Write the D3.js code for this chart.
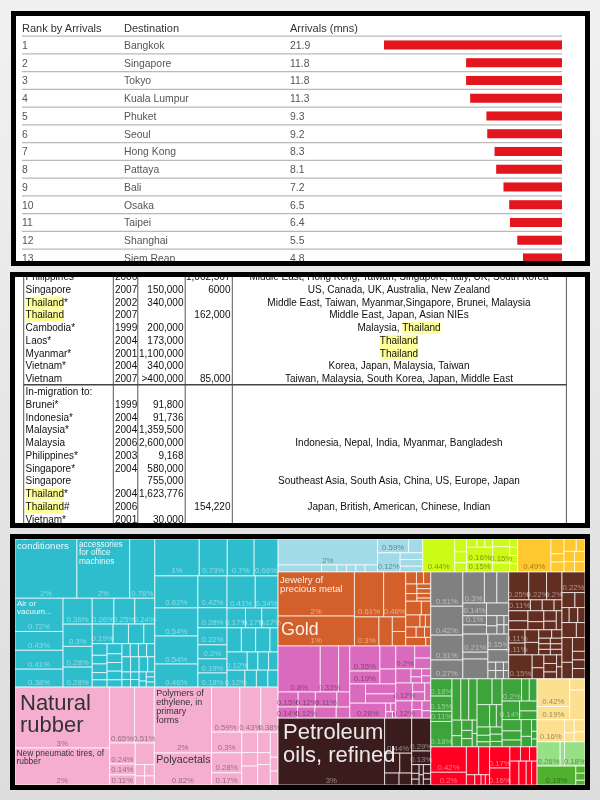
<!DOCTYPE html>
<html>
<head>
<meta charset="utf-8">
<script src="https://cdn.jsdelivr.net/npm/d3@7"></script>
<style>
  html, body { margin: 0; padding: 0; background: #e8e8e8; }
  svg { display: block; font-family: "Liberation Sans", Arial, sans-serif; }
</style>
</head>
<body>
<div id="chart"></div>
<script>
// ---------- table 1: top destinations ----------
const ranks = ["1","2","3","4","5","6","7","8","9","10","11","12","13"];
const cities = ["Bangkok","Singapore","Tokyo","Kuala Lumpur","Phuket","Seoul","Hong Kong","Pattaya","Bali","Osaka","Taipei","Shanghai","Siem Reap"];
const arrivals = [21.9,11.8,11.8,11.3,9.3,9.2,8.3,8.1,7.2,6.5,6.4,5.5,4.8];

// ---------- table 2: migration ----------
const places = ["Philippines","Singapore","Thailand*","Thailand","Cambodia*","Laos*","Myanmar*","Vietnam*","Vietnam","In-migration to:","Brunei*","Indonesia*","Malaysia*","Malaysia","Philippines*","Singapore*","Singapore","Thailand*","Thailand#","Vietnam*"];
const years = ["2006","2007","2002","2007","1999","2004","2001","2004","2007","","1999","2004","2004","2006","2003","2004","","2004","2006","2001"];
const stocks = ["","150,000","340,000","","200,000","173,000","1,100,000","340,000",">400,000","","91,800","91,736","1,359,500","2,600,000","9,168","580,000","755,000","1,623,776","","30,000"];
const flows = ["1,062,567","6000","","162,000","","","","","85,000","","","","","","","","","","154,220",""];
const partners = [
  "Middle East, Hong Kong, Taiwan, Singapore, Italy, UK, South Korea",
  "US, Canada, UK, Australia, New Zealand",
  "Middle East, Taiwan, Myanmar,Singapore, Brunei, Malaysia",
  "Middle East, Japan, Asian NIEs",
  "Malaysia, Thailand",
  "Thailand",
  "Thailand",
  "Korea, Japan, Malaysia, Taiwan",
  "Taiwan, Malaysia, South Korea, Japan, Middle East",
  "","","","",
  "Indonesia, Nepal, India, Myanmar, Bangladesh",
  "","",
  "Southeast Asia, South Asia, China, US, Europe, Japan",
  "",
  "Japan, British, American, Chinese, Indian",
  ""
];

// ---------- treemap: export shares in percent ----------
// a plain number is an unlabelled cell
const p = (v, t, n) => ({v: v, t: t, n: n});

const machinery = [
  [
    [p(1.70,"2%","Air\nconditioners"), p(1.45,"2%","accessories\nfor office\nmachines"), p(.69,"0.78%")],
    [
      [p(.74,"0.72%","Air or\nvacuum..."), p(.42,"0.43%"), p(.42,"0.41%"), p(.40,"0.38%")],
      [p(.35,"0.36%"), p(.30,"0.3%"), p(.28,"0.28%"), p(.27,"0.28%")],
      [
        [p(.26,"0.26%"), p(.25,"0.25%"), p(.24,"0.24%")],
        [p(.19,"0.19%"), .14, .14, .10],
        [
          [.08,.06,.06,.05,.05],
          [.07,.06,.06,.06,.05],
          [[.05,.05,.05,.05], [.06,.06,.06,.05], [[.03,.03],[.03,.03],[.03,.02],[.02,.02,.02]]]
        ]
      ]
    ]
  ],
  [
    [p(.76,"1%"), p(.48,"0.73%"), p(.46,"0.7%"), p(.41,"0.66%")],
    [
      [p(.64,"0.62%"), p(.56,"0.54%"), p(.56,"0.54%"), p(.46,"0.46%")],
      [p(.43,"0.42%"), p(.27,"0.28%"), p(.23,"0.22%"), p(.19,"0.2%"), p(.19,"0.19%"), p(.19,"0.18%")],
      [
        [p(.42,"0.41%"), p(.34,"0.34%")],
        [p(.17,"0.17%"), p(.15,"0.17%"), p(.15,"0.17%")],
        [.16,.16,.16,.09],
        [p(.17,"0.12%"), .09, .09, .08],
        [p(.14,"0.12%"), .09, .09, .08]
      ]
    ]
  ]
];

const rubber = [
  [p(2.67,"3%","Natural\nrubber"), p(1.62,"2%","New pneumatic tires, of\nrubber")],
  [
    [p(.65,"0.65%"), p(.51,"0.51%")],
    [[p(.25,"0.24%"), p(.13,"0.14%"), p(.12,"0.11%")], [.19, [.05,.05], [.04,.04]]]
  ],
  [p(1.75,"2%","Polymers of\nethylene, in\nprimary\nforms"), p(.85,"0.82%","Polyacetals")],
  [
    [p(.59,"0.59%"), p(.44,"0.43%"), p(.36,"0.38%")],
    [[p(.29,"0.3%"), p(.28,"0.28%"), p(.17,"0.17%")], [.15,.10,.14], [.12,.07,.12], [.09,.05,.05]]
  ]
];

const optical = [[
  [p(1.20,"2%"), [.14,.05,.03,.03,.03,.04]],
  [[p(.20,"0.59%"), .09], [p(.20,"0.12%"), [.07,.07,.06]]]
]];
const chemicals = [[
  p(.49,"0.44%"),
  [.07,.06,.05],
  [[.04,.03,.03], p(.18,"0.16%"), p(.12,"0.15%")],
  [[[.06, p(.13,"0.15%"), .07], [.03,.03,.03,.03]]]
]];
const foodstuffs = [[
  p(.51,"0.49%"),
  [.09,.05,.06],
  [[.07,.05], [.05,.05], [.05,.05]]
]];
const metals = [
  [p(1.56,"2%","Jewelry of\nprecious metal"), p(1.06,"1%","Gold")],
  [[p(.61,"0.61%"), p(.46,"0.46%")], [p(.33,"0.3%"), .18, [.09,.09]]],
  [
    [.06,.04,.04],
    [[.05,.04], [.03,.03,.03,.02]],
    [.10,.06],
    [.08,.03,.03],
    [.05,.04,.03],
    [.08,.02]
  ]
];
const plastics = [
  [
    [p(.90,"0.8%"), p(.39,"0.33%"), .24],
    [p(.14,"0.15%"), p(.12,"0.12%"), p(.15,"0.11%"), .09],
    [p(.10,"0.14%"), p(.09,"0.12%"), .11, .07]
  ],
  [
    [[p(.35,"0.35%"), p(.18,"0.19%")], [.17,.11]],
    [.14, [.14,.13]],
    [p(.25,"0.28%"), [[.02,.02],[.02,.01]]]
  ],
  [
    [p(.20,"0.2%"), [.09,.08]],
    [.10, [.04,.03], [.03,.03]],
    [p(.14,"0.12%"), [.05,.05], .05],
    [p(.13,"0.12%"), [.04,.04], [.04,.03]]
  ]
];
const petroleum = [
  p(3.30,"3%","Petroleum\noils, refined"),
  [p(.44,"0.44%"), [.14,.11], [.08,.07]],
  [p(.29,"0.29%"), p(.12,"0.13%"), [[.03,.02,.02],[.02,.02],[.03,.02,.02]]]
];
const vehicles = [[
  [p(.51,"0.51%"), p(.43,"0.42%"), p(.37,"0.31%"), p(.28,"0.27%")],
  [
    [p(.31,"0.3%"), .18, .17],
    [[p(.14,"0.14%"), p(.10,"0.1%"), .10], [.13, [[.05,.04],[.03,.03],[.02,.02]]]],
    [[p(.21,"0.21%"), .08, .23], [p(.15,"0.15%"), .12, [[.03,.03],[.03,.03],[.02,.02]]]]
  ]
]];
const textiles = [[
  [
    [p(.26,"0.25%"), p(.23,"0.22%"), p(.20,"0.2%")],
    [p(.11,"0.11%"), .06, .06, .04],
    [[.09,.08], [.08,.06], [.06,.05], .05],
    [[p(.10,"0.11%"), p(.09,"0.11%")], [.08,.08], [[.05,.04],[.03,.03],[.03,.03],[.03,.03]]],
    [p(.26,"0.15%"), [.07,.06], [.05,.05,.04], [.03,.03]]
  ],
  [
    p(.22,"0.22%"),
    [.09,.07],
    [.05,.06,.05],
    [.10,.06],
    [[.12,.08], [.08,.05,.05,.06]]
  ]
]];
const seafood = [
  [p(.17,"0.18%"), p(.15,"0.15%"), p(.10,"0.11%"), p(.25,"0.18%")],
  [[.17,.15,.16], [[.07,.05], [.05,.04,.04], [.03,.03]]],
  [[.18,.12], [.13,.07,.06], [[.05,.04,.03], [.04,.04,.03]]],
  [[p(.20,"0.2%"), .08, .08], [p(.15,"0.14%"), [.08,.07]], [[.10,.08,.06], [.08,.05], [.03,.02,.02]]]
];
const electrical = [
  [p(.42,"0.42%"), p(.21,"0.2%")],
  [[.16,.14], [.04,.03,.02,.02]],
  [p(.20,"0.17%"), p(.16,"0.16%")],
  [[.07,.06,.05], [.10,.08,.06,.06]]
];
const prepared = [[
  [[p(.42,"0.42%"), p(.20,"0.19%")], [.08,.21]],
  [p(.28,"0.16%"), [.06,.04], [.06,.05]]
]];
const vegetables = [p(.26,"0.26%"), .05, p(.23,"0.18%")];
const cereals = [p(.34,"0.19%"), [.03,.03,.02]];

// the tree alternates: even depth splits sideways, odd depth splits downwards
const exportsTree = [
  [machinery, rubber],
  [
    [optical, chemicals, foodstuffs],
    [
      [metals, plastics, petroleum],
      [
        [vehicles, textiles],
        [[seafood, electrical], [prepared, vegetables, cereals]]
      ]
    ]
  ]
];

// ---------- styles ----------
const groupFill = new Map([
  [machinery, "#2fbdcd"], [rubber, "#f5aecf"], [optical, "#a1dbe7"], [chemicals, "#cbfb12"],
  [foodstuffs, "#ffc82e"], [metals, "#d3602a"], [plastics, "#da6bbe"], [petroleum, "#3b1c1b"],
  [vehicles, "#808080"], [textiles, "#622f20"], [seafood, "#3da33b"], [electrical, "#ff0022"],
  [prepared, "#fde08f"], [vegetables, "#98e085"], [cereals, "#4fb12f"]
]);
const darkText = new Set([rubber, optical, chemicals, foodstuffs, plastics, prepared, vegetables, cereals]);

// font size, first baseline below cell top, line step, left inset
const nameStyle = {
  "Air\nconditioners": [9.6, 1, 9, 2],
  "accessories\nfor office\nmachines": [8.3, 8, 8.3, 2],
  "Air or\nvacuum...": [8, 7.5, 8, 2],
  "Natural\nrubber": [22, 23, 22, 5],
  "New pneumatic tires, of\nrubber": [8.4, 8, 7.5, 1.5],
  "Polymers of\nethylene, in\nprimary\nforms": [9, 9, 9, 2],
  "Polyacetals": [10.6, 10, 10, 2],
  "Jewelry of\nprecious metal": [9.6, 11, 9.5, 2],
  "Gold": [17.8, 19, 18, 3],
  "Petroleum\noils, refined": [22, 21, 22.5, 5]
};

// ---------- page ----------
const svg = d3.select("#chart").append("svg").attr("width", 600).attr("height", 800);
const defs = svg.append("defs");
const bg = defs.append("linearGradient").attr("id", "bg").attr("x2", 0).attr("y2", 1);
bg.append("stop").attr("offset", 0).attr("stop-color", "#f1f1f1");
bg.append("stop").attr("offset", 1).attr("stop-color", "#dddddd");
defs.append("filter").attr("id", "soft").append("feGaussianBlur").attr("stdDeviation", 0.4);
svg.append("rect").attr("width", 600).attr("height", 800).attr("fill", "url(#bg)");

function panel(id, x0, y0, x1, y1) {
  svg.append("rect").attr("x", x0 - 5).attr("y", y0 - 5).attr("width", x1 - x0 + 10).attr("height", y1 - y0 + 10).attr("fill", "#000");
  defs.append("clipPath").attr("id", id).append("rect").attr("x", x0).attr("y", y0).attr("width", x1 - x0).attr("height", y1 - y0);
  svg.append("rect").attr("x", x0).attr("y", y0).attr("width", x1 - x0).attr("height", y1 - y0).attr("fill", "#fff");
  return svg.append("g").attr("clip-path", "url(#" + id + ")").append("g").attr("filter", "url(#soft)");
}

// ---------- table 1 ----------
const top1 = panel("p1", 16, 16, 585, 261);
const rowStep = 17.75;
const yRow = d3.scaleBand().domain(ranks).range([36.1, 36.1 + rowStep * ranks.length]).paddingInner(0.49).paddingOuter(0.245);
const xBar = d3.scaleLinear().domain([0, 21.9]).range([562, 384]);

[["Rank by Arrivals", 22], ["Destination", 124], ["Arrivals (mns)", 290]].forEach(h => {
  top1.append("text").attr("x", h[1]).attr("y", 32).attr("font-size", 11).attr("fill", "#333").text(h[0]);
});
top1.selectAll(".sep").data(ranks).join("line")
  .attr("x1", 22).attr("x2", 562)
  .attr("y1", d => yRow(d) - 4.4).attr("y2", d => yRow(d) - 4.4)
  .attr("stroke", "#b9b9b9").attr("stroke-width", 1.3);
top1.selectAll(".bar").data(arrivals).join("rect")
  .attr("x", d => xBar(d)).attr("width", d => xBar(0) - xBar(d))
  .attr("y", (d, i) => yRow(ranks[i])).attr("height", yRow.bandwidth())
  .attr("fill", "#e2161f");
[[ranks, 22], [cities, 124], [arrivals, 290]].forEach(col => {
  top1.selectAll(null).data(col[0]).join("text")
    .attr("x", col[1]).attr("y", (d, i) => yRow(ranks[i]) + yRow.bandwidth() / 2 + 3.8)
    .attr("font-size", 10.4).attr("fill", "#555").text(d => d);
});

// ---------- table 2 ----------
const top2 = panel("p2", 15, 277, 585, 523);
const yLine = d3.scaleLinear().domain([0, places.length - 1]).range([280, 522.8]);
const highlights = top2.append("g");
[23.7, 113.3, 137.8, 185.2, 232.3, 566.4].forEach(x => {
  top2.append("line").attr("x1", x).attr("x2", x).attr("y1", 270).attr("y2", 530).attr("stroke", "#555").attr("stroke-width", 1);
});
top2.append("line").attr("x1", 23.7).attr("x2", 566.4).attr("y1", 384.7).attr("y2", 384.7).attr("stroke", "#444").attr("stroke-width", 1.5);

[[places, 25.6, "start"], [years, 115, "start"], [stocks, 183.5, "end"], [flows, 230.5, "end"], [partners, 399, "middle"]].forEach(col => {
  top2.selectAll(null).data(col[0]).join("text")
    .attr("x", col[1]).attr("y", (d, i) => yLine(i))
    .attr("text-anchor", col[2]).attr("font-size", 10).attr("fill", "#111")
    .text(d => d)
    .each(function (d, i) {
      const at = d.indexOf("Thailand");
      if (at < 0) return;
      const a = this.getStartPositionOfChar(at).x, b = this.getEndPositionOfChar(at + 7).x;
      highlights.append("rect").attr("x", a).attr("width", b - a)
        .attr("y", yLine(i) - 9).attr("height", 12).attr("fill", "#ffff99");
    });
});

// ---------- treemap ----------
const top3 = panel("p3", 15, 539, 585, 785);
const root = d3.hierarchy(exportsTree, d => Array.isArray(d) ? d : null)
  .sum(d => Array.isArray(d) ? 0 : (typeof d === "number" ? d : d.v));

d3.treemap().size([570, 246]).tile((node, x0, y0, x1, y1) => {
  (node.depth % 2 ? d3.treemapSlice : d3.treemapDice)(node, x0, y0, x1, y1);
})(root);

const groupOf = n => n.ancestors().map(a => a.data).find(a => groupFill.has(a));
const cells = top3.append("g").attr("transform", "translate(15,539)");
const leaves = root.leaves();

cells.selectAll("rect").data(leaves).join("rect")
  .attr("x", d => d.x0).attr("y", d => d.y0)
  .attr("width", d => d.x1 - d.x0).attr("height", d => d.y1 - d.y0)
  .attr("fill", d => groupFill.get(groupOf(d)))
  .attr("stroke", "#fff").attr("stroke-opacity", 0.7).attr("stroke-width", 1);

// percent at the bottom of a cell
cells.selectAll(".pct").data(leaves.filter(d => d.data.t)).join("text")
  .attr("x", d => (d.x0 + d.x1) / 2).attr("y", d => d.y1 - 2.5)
  .attr("text-anchor", "middle").attr("font-size", 7.8)
  .attr("fill", d => darkText.has(groupOf(d)) ? "#000" : "#fff")
  .attr("fill-opacity", d => darkText.has(groupOf(d)) ? 0.4 : 0.45)
  .text(d => d.data.t);

// product names, top left
leaves.filter(d => d.data.n).forEach(d => {
  const s = nameStyle[d.data.n];
  d.data.n.split("\n").forEach((line, i) => {
    cells.append("text")
      .attr("x", d.x0 + s[3]).attr("y", d.y0 + s[1] + i * s[2])
      .attr("font-size", s[0])
      .attr("fill", darkText.has(groupOf(d)) ? "#333" : "#fff")
      .attr("fill-opacity", darkText.has(groupOf(d)) ? 1 : 0.9)
      .text(line);
  });
});
</script>
</body>
</html>
